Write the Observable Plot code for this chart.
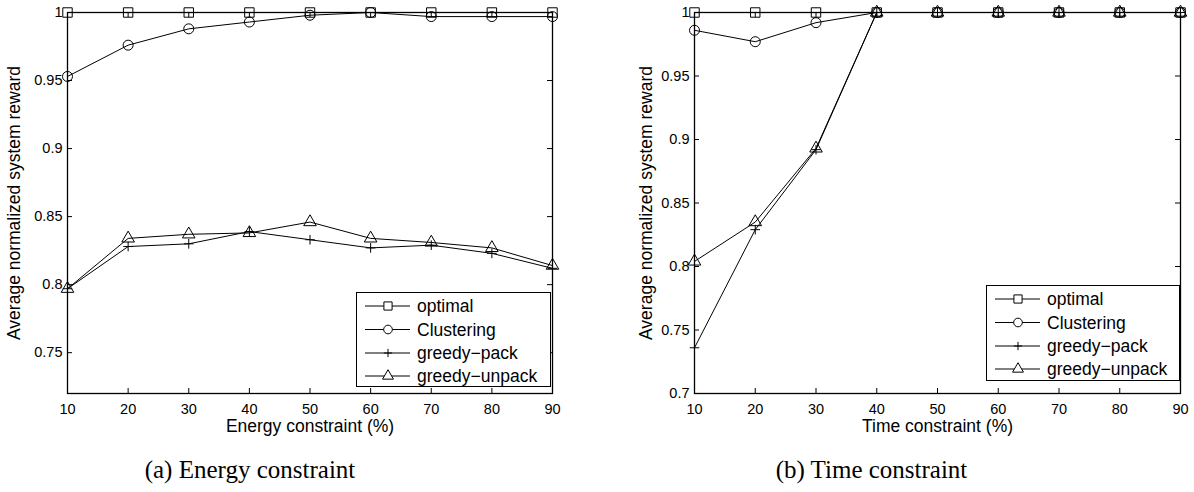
<!DOCTYPE html>
<html>
<head>
<meta charset="utf-8">
<script src="https://cdn.jsdelivr.net/npm/d3@7"></script>
<script src="https://cdn.jsdelivr.net/npm/@observablehq/plot@0.6"></script>
<style>
  html, body { margin: 0; padding: 0; background: #fff; }
  #page { position: relative; width: 1194px; height: 492px; overflow: hidden;
          font-family: "Liberation Sans", Arial, sans-serif; }
  .panel { position: absolute; top: 0; }
  .legend { position: absolute; background: #fff; border: 1px solid #000; box-sizing: border-box; }
  .captions { position: absolute; left: 0; top: 0; pointer-events: none; }
</style>
</head>
<body>
<div id="page"></div>
<script>
// Constraint levels (%) shared by both panels
const constraintLevels = [10, 20, 30, 40, 50, 60, 70, 80, 90];
const seriesNames = ["optimal", "Clustering", "greedy\u2212pack", "greedy\u2212unpack"];

// (a) Energy constraint
const energyOptimal      = [1, 1, 1, 1, 1, 1, 1, 1, 1];
const energyClustering   = [0.953, 0.976, 0.988, 0.993, 0.998, 1.0, 0.997, 0.997, 0.997];
const energyGreedyPack   = [0.797, 0.828, 0.830, 0.839, 0.833, 0.827, 0.829, 0.823, 0.812];
const energyGreedyUnpack = [0.797, 0.834, 0.837, 0.838, 0.846, 0.834, 0.831, 0.827, 0.814];
const energyYTicks = [0.75, 0.8, 0.85, 0.9, 0.95, 1];

// (b) Time constraint
const timeOptimal      = [1, 1, 1, 1, 1, 1, 1, 1, 1];
const timeClustering   = [0.986, 0.977, 0.992, 1, 1, 1, 1, 1, 1];
const timeGreedyPack   = [0.736, 0.829, 0.892, 1, 1, 1, 1, 1, 1];
const timeGreedyUnpack = [0.804, 0.835, 0.893, 1, 1, 1, 1, 1, 1];
const timeYTicks = [0.7, 0.75, 0.8, 0.85, 0.9, 0.95, 1];

const yAxisLabel = "Average normalized system reward";

// Open markers, one per series
const markers = [
  {symbol: "square2", r: 6},
  {symbol: "circle", r: 5},
  {symbol: "plus", r: 3.2},
  {symbol: "triangle2", r: 6}
];
const symbolTypes = {square2: d3.symbolSquare2, circle: d3.symbolCircle, plus: d3.symbolPlus, triangle2: d3.symbolTriangle2};

const page = document.getElementById("page");
const W = 597, H = 440, MT = 12, MB = 47;
const LABEL_SIZE = 17.5, TICK_SIZE = 14.5;

function drawPanel({left, marginLeft, marginRight, yDomain, yTicks, series, xLabel, yLabelDx, legendBox}) {
  const innerW = W - marginLeft - marginRight;
  const innerH = H - MT - MB;
  const marks = [];

  series.forEach((vals, i) => {
    const rows = constraintLevels.map((x, j) => ({x, y: vals[j]}));
    marks.push(Plot.line(rows, {x: "x", y: "y", stroke: "black", strokeWidth: 1}));
    marks.push(Plot.dot(rows, {x: "x", y: "y", symbol: markers[i].symbol, r: markers[i].r,
                               stroke: "black", fill: "none", strokeWidth: 1}));
  });

  // inward ticks on all four sides
  marks.push(Plot.tickY(yTicks, {y: d => d, insetRight: innerW - 5, stroke: "black", strokeWidth: 1}));
  marks.push(Plot.tickY(yTicks, {y: d => d, insetLeft: innerW - 5, stroke: "black", strokeWidth: 1}));
  marks.push(Plot.tickX(constraintLevels, {x: d => d, insetTop: innerH - 5, stroke: "black", strokeWidth: 1}));
  marks.push(Plot.tickX(constraintLevels, {x: d => d, insetBottom: innerH - 5, stroke: "black", strokeWidth: 1}));

  marks.push(Plot.axisX({ticks: constraintLevels, tickSize: 0, tickPadding: 10, label: null, fontSize: TICK_SIZE}));
  marks.push(Plot.axisY({ticks: yTicks, tickSize: 0, tickPadding: 5, label: null, fontSize: TICK_SIZE,
                         tickFormat: d => String(d)}));
  marks.push(Plot.frame({stroke: "black", strokeWidth: 1.3}));

  marks.push(Plot.text([xLabel], {text: d => d, frameAnchor: "bottom", dy: 38, fontSize: LABEL_SIZE, fill: "black"}));
  marks.push(Plot.text([yAxisLabel], {text: d => d, frameAnchor: "left", textAnchor: "middle", rotate: -90,
                                      dx: yLabelDx, fontSize: LABEL_SIZE, fill: "black"}));

  const svg = Plot.plot({
    width: W, height: H,
    marginLeft, marginRight, marginTop: MT, marginBottom: MB,
    x: {type: "linear", domain: [10, 90]},
    y: {type: "linear", domain: yDomain},
    style: {background: "transparent", fontFamily: "'Liberation Sans', Arial, sans-serif",
            fontSize: TICK_SIZE + "px", color: "black", overflow: "visible"},
    marks
  });
  svg.classList.add("panel");
  svg.style.left = left + "px";
  page.appendChild(svg);

  // legend box
  const box = d3.select(page).append("div").attr("class", "legend")
    .style("left", legendBox.x + "px").style("top", legendBox.y + "px")
    .style("width", legendBox.w + "px").style("height", legendBox.h + "px");
  const lsvg = box.append("svg").attr("width", legendBox.w - 2).attr("height", legendBox.h - 2)
    .style("display", "block");
  const rowY = [13, 36.5, 60, 83];
  seriesNames.forEach((name, i) => {
    const g = lsvg.append("g").attr("transform", `translate(0,${rowY[i]})`);
    g.append("line").attr("x1", 8).attr("x2", 53).attr("y1", 0).attr("y2", 0)
      .attr("stroke", "black").attr("stroke-width", 1);
    g.append("path")
      .attr("d", d3.symbol(symbolTypes[markers[i].symbol], Math.PI * markers[i].r * markers[i].r * 0.75)())
      .attr("transform", "translate(31,0)")
      .attr("fill", "white").attr("stroke", "black").attr("stroke-width", 1);
    g.append("text").attr("x", 60).attr("y", 6).attr("font-size", LABEL_SIZE)
      .attr("font-family", "'Liberation Sans', Arial, sans-serif").attr("fill", "black").text(name);
  });
}

drawPanel({
  left: 0, marginLeft: 67, marginRight: 45,
  yDomain: [0.72, 1], yTicks: energyYTicks,
  series: [energyOptimal, energyClustering, energyGreedyPack, energyGreedyUnpack],
  xLabel: "Energy constraint (%)", yLabelDx: -53,
  legendBox: {x: 356, y: 292, w: 195, h: 95}
});

drawPanel({
  left: 597, marginLeft: 97, marginRight: 14,
  yDomain: [0.7, 1], yTicks: timeYTicks,
  series: [timeOptimal, timeClustering, timeGreedyPack, timeGreedyUnpack],
  xLabel: "Time constraint (%)", yLabelDx: -48,
  legendBox: {x: 986, y: 285, w: 194, h: 96}
});

// sub-figure captions
const cap = d3.select(page).append("svg").attr("class", "captions").attr("width", 1194).attr("height", 492);
[["(a) Energy constraint", 250], ["(b) Time constraint", 871.5]].forEach(([t, x]) => {
  cap.append("text").attr("x", x).attr("y", 478).attr("text-anchor", "middle")
    .attr("font-family", "'Liberation Serif', 'Times New Roman', serif").attr("font-size", 25)
    .attr("fill", "black").text(t);
});
</script>
</body>
</html>
